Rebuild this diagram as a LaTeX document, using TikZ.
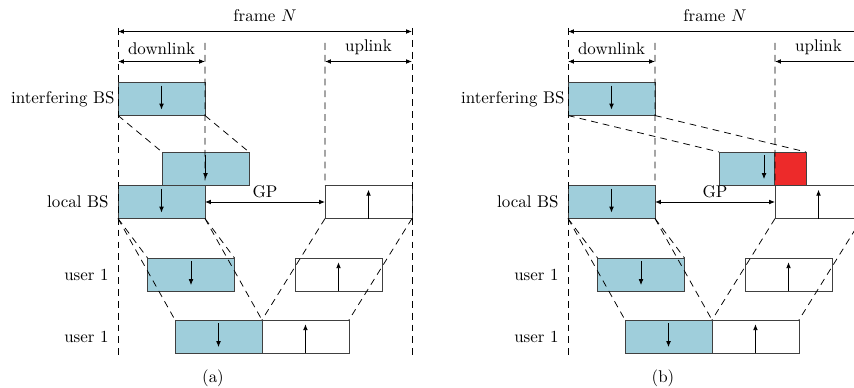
\documentclass[tikz,border=0pt]{standalone}
\usepackage{xcolor}
\usepackage{tikz}
\usetikzlibrary{arrows.meta}
\usetikzlibrary{positioning}

\definecolor{slotblue}{RGB}{159,206,219}
\definecolor{slotred}{RGB}{237,42,42}

\begin{document}
\begin{tikzpicture}[
        x=0.59pt, y=-0.59pt,
        node distance=0pt,
        % 
        dl slot/.style={
            draw=black!75,
            fill=slotblue,
            line width=0.5pt,
            minimum width=51.3pt,
            minimum height=19.5pt,
            inner sep=0pt,
            outer sep=0pt,
        },
        % 
        ul slot/.style={
            dl slot,
            fill=white,
        },
        row label/.style={anchor=east, inner sep=0pt},
        guide line/.style={dash pattern=on 4pt off 3pt, line width=0.45pt},
        dim edge/.style={{Latex[length=3.5pt,width=2.8pt]}-{Latex[length=3.5pt,width=2.8pt]}, line width=0.5pt},
        dir edge/.style={-{Latex[length=3.5pt,width=2.8pt]}, line width=0.5pt}
        ]
        
        \useasboundingbox (0,0) rectangle (854,388);
        \clip (0,0) rectangle (854,388);
        
        % Vertices (a)
        
        \node[dl slot] (a-ibs) at (161.5,99) {};
        \node[dl slot] (a-ibs-late) at (205.5,168.5) {};
        \node[dl slot] (a-lbs-dl) at (161.5,202) {};
        \node[ul slot] (a-lbs-ul) at (368.5,202) {};
        \node[dl slot] (a-u1-dl) at (191,274.5) {};
        \node[ul slot] (a-u1-ul) at (338.5,274.5) {};
        \node[dl slot] (a-u2-dl) at (218.5,336.5) {};
        \node[ul slot, right=of a-u2-dl] (a-u2-ul) {};
        
        \node[row label] (a-ibs-lbl) at (115,99) {interfering BS};
        \node[row label] (a-lbs-lbl) at (109,202) {local BS};
        \node[row label] (a-u1-lbl) at (109,274.5) {user 1};
        \node[row label] (a-u2-lbl) at (109,336.5) {user 1};
        \node (a-cap) at (213,378) {(a)};
        
        \coordinate (a-frame-l) at (118,31.5);
        \coordinate (a-frame-r) at (412,31.5);
        \coordinate (a-dl-l) at (118,61.5);
        \coordinate (a-dl-r) at (205,61.5);
        \coordinate (a-ul-l) at (325,61.5);
        \coordinate (a-ul-r) at (412,61.5);
        
        % Edges (a)
        
        \draw[guide line] (118,28) -- (118,358);
        \draw[guide line] (412,28) -- (412,358);
        \draw[guide line] (205,43) -- (a-ibs-late.north -| a-lbs-dl.east) -- (a-lbs-dl.north east);
        \draw[guide line] (325,43) -- (a-lbs-ul.north west);
        %
        \draw[dim edge] (a-frame-l) -- node[above=2pt] {frame $N$} (a-frame-r);
        \draw[dim edge] (a-dl-l) -- node[above=0.5pt] {downlink} (a-dl-r);
        \draw[dim edge] (a-ul-l) -- node[above=0.5pt] {uplink} (a-ul-r);
        \draw[dim edge] (a-lbs-dl.east) -- node[above=-1pt] {GP} (a-lbs-ul.west);
        %
        \draw[guide line] (a-ibs.south west) -- (a-ibs-late.north west);
        \draw[guide line] (a-ibs.south east) -- (a-ibs-late.north east);
        \draw[guide line] (a-lbs-dl.south west) -- (a-u1-dl.north west);
        \draw[guide line] (a-lbs-dl.south west) -- (a-u2-dl.north west);
        \draw[guide line] (a-lbs-dl.south east) -- (a-u1-dl.north east);
        \draw[guide line] (a-lbs-dl.south east) -- (a-u2-dl.north east);
        \draw[guide line] (a-lbs-ul.south west) -- (a-u2-ul.north west);
        \draw[guide line] (a-lbs-ul.south east) -- (a-u2-ul.north east);
        %
        \draw[dir edge] ([yshift=-1.8pt]a-ibs.north) -- ([yshift=3.5pt]a-ibs.south);
        \draw[dir edge] ([yshift=-1.8pt]a-ibs-late.north) -- ([yshift=3.5pt]a-ibs-late.south);
        \draw[dir edge] ([yshift=-1.8pt]a-lbs-dl.north) -- ([yshift=3.5pt]a-lbs-dl.south);
        \draw[dir edge] ([yshift=-1.8pt]a-u1-dl.north) -- ([yshift=3.5pt]a-u1-dl.south);
        \draw[dir edge] ([yshift=-1.8pt]a-u2-dl.north) -- ([yshift=3.5pt]a-u2-dl.south);
        \draw[dir edge] (a-lbs-ul.south) -- ([yshift=-2.5pt]a-lbs-ul.north);
        \draw[dir edge] (a-u1-ul.south) -- ([yshift=-2.5pt]a-u1-ul.north);
        \draw[dir edge] (a-u2-ul.south) -- ([yshift=-2.5pt]a-u2-ul.north);
        
        % Vertices (b)
        
        \node[dl slot] (b-ibs) at (611.5,99) {};
        \node[dl slot, minimum width=32.45pt] (b-ibs-late) at (746.5,168.5) {};
        \node[dl slot, minimum width=18.9pt, fill=slotred, right=of b-ibs-late] (b-late-red) {};
        \node[dl slot] (b-lbs-dl) at (611.5,202) {};
        \node[ul slot] (b-lbs-ul) at (818.5,202) {};
        \node[dl slot] (b-u1-dl) at (641,274.5) {};
        \node[ul slot] (b-u1-ul) at (788.5,274.5) {};
        \node[dl slot] (b-u2-dl) at (668.5,336.5) {};
        \node[ul slot, right=of b-u2-dl] (b-u2-ul) {};
        
        \node[row label] (b-ibs-lbl) at (565,99) {interfering BS};
        \node[row label] (b-lbs-lbl) at (559,202) {local BS};
        \node[row label] (b-u1-lbl) at (559,274.5) {user 1};
        \node[row label] (b-u2-lbl) at (559,336.5) {user 1};
        \node (b-cap) at (663,378) {(b)};
        
        \coordinate (b-frame-l) at (568,31.5);
        \coordinate (b-frame-r) at (862,31.5);
        \coordinate (b-dl-l) at (568,61.5);
        \coordinate (b-dl-r) at (655,61.5);
        \coordinate (b-ul-l) at (775,61.5);
        \coordinate (b-ul-r) at (862,61.5);
        
        % Edges (b)
        
        \draw[guide line] (568,28) -- (568,358);
        \draw[guide line] (862,28) -- (862,358);
        \draw[guide line] (655,43) -- (b-lbs-dl.north east);
        \draw[guide line] (775,43) -- (b-lbs-ul.north west);
        %
        \draw[dim edge] (b-frame-l) -- node[above=2pt] {frame $N$} (b-frame-r);
        \draw[dim edge] (b-dl-l) -- node[above=0.5pt] {downlink} (b-dl-r);
        \draw[dim edge] (b-ul-l) -- node[above=0.5pt] {uplink} (b-ul-r);
        \draw[dim edge] (b-lbs-dl.east) -- node[above=-1pt] {GP} (b-lbs-ul.west);
        %
        \draw[guide line] (b-ibs.south west) -- (b-ibs-late.north west);
        \draw[guide line] (b-ibs.south east) -- (b-late-red.north east);
        \draw[guide line] (b-lbs-dl.south west) -- (b-u1-dl.north west);
        \draw[guide line] (b-lbs-dl.south west) -- (b-u2-dl.north west);
        \draw[guide line] (b-lbs-dl.south east) -- (b-u1-dl.north east);
        \draw[guide line] (b-lbs-dl.south east) -- (b-u2-dl.north east);
        \draw[guide line] (b-lbs-ul.south west) -- (b-u2-ul.north west);
        \draw[guide line] (b-lbs-ul.south east) -- (b-u2-ul.north east);
        %
        \draw[dir edge] ([yshift=-1.8pt]b-ibs.north) -- ([yshift=3.5pt]b-ibs.south);
        \draw[dir edge] ([xshift=-5.9pt,yshift=-1.8pt]b-ibs-late.north east) -- ([xshift=-5.9pt,yshift=3.5pt]b-ibs-late.south east);
        \draw[dir edge] ([yshift=-1.8pt]b-lbs-dl.north) -- ([yshift=3.5pt]b-lbs-dl.south);
        \draw[dir edge] ([yshift=-1.8pt]b-u1-dl.north) -- ([yshift=3.5pt]b-u1-dl.south);
        \draw[dir edge] ([yshift=-1.8pt]b-u2-dl.north) -- ([yshift=3.5pt]b-u2-dl.south);
        \draw[dir edge] (b-lbs-ul.south) -- ([yshift=-2.5pt]b-lbs-ul.north);
        \draw[dir edge] (b-u1-ul.south) -- ([yshift=-2.5pt]b-u1-ul.north);
        \draw[dir edge] (b-u2-ul.south) -- ([yshift=-2.5pt]b-u2-ul.north);
        % 
    \end{tikzpicture}
\end{document}
